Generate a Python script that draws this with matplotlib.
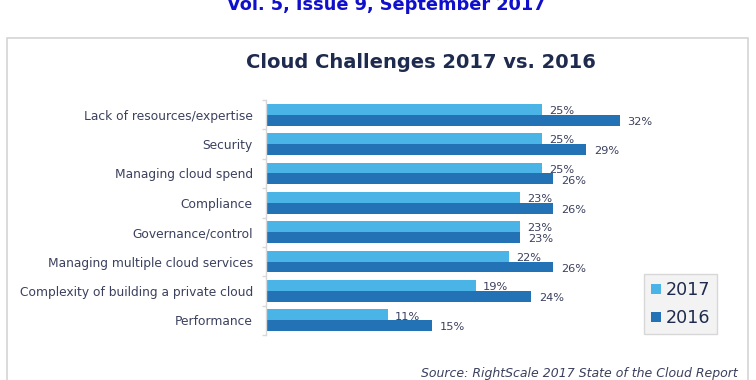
import matplotlib
matplotlib.use("Agg")
import matplotlib.pyplot as plt
import matplotlib.patches as patches
import numpy as np

# Data
categories = [
    "Lack of resources/expertise",
    "Security",
    "Managing cloud spend",
    "Compliance",
    "Governance/control",
    "Managing multiple cloud services",
    "Complexity of building a private cloud",
    "Performance",
]
vals_2017 = [25, 25, 25, 23, 23, 22, 19, 11]
vals_2016 = [32, 29, 26, 26, 23, 26, 24, 15]
series_names = ["2017", "2016"]

LIGHT = "#4bb4e6"
DARK = "#2472b6"
TEXT = "#3b405e"
TITLE = "#1f2b4e"
SPINE = "#d8d8d8"
FONT = "DejaVu Sans"

fig = plt.figure(figsize=(7.56, 3.8), dpi=100, facecolor="white")

# Newsletter header (cut at top edge, as in the source page)
fig.text(0.511, 1 - 5 / 380, "Vol. 5, Issue 9, September 2017", ha="center", va="center",
         fontsize=12.8, fontweight="bold", color="#1010cc", family=FONT)

# Light gray frame around the chart
fig.patches.append(patches.Rectangle(
    (7 / 756, -0.05), (748 - 7) / 756, 1.05 - 38 / 380, transform=fig.transFigure,
    facecolor="none", edgecolor="#d4d4d4", linewidth=1.2, zorder=-1))

fig.text(421 / 756, 1 - 62 / 380, "Cloud Challenges 2017 vs. 2016", ha="center", va="center",
         fontsize=14, fontweight="bold", color=TITLE, family=FONT)

ax = fig.add_axes([266 / 756, 45 / 380, (740 - 266) / 756, (335 - 100) / 380])
ax.set_facecolor("none")

y = np.arange(len(categories))
h = 0.37
ax.barh(y - h / 2, vals_2017, height=h, color=LIGHT, label=series_names[0], zorder=2)
ax.barh(y + h / 2, vals_2016, height=h, color=DARK, label=series_names[1], zorder=2)

for yi, v in zip(y, vals_2017):
    ax.annotate(f"{v}%", xy=(v, yi - h / 2), xytext=(5, -1.2), textcoords="offset points",
                ha="left", va="center", fontsize=8.2, color=TEXT, family=FONT, zorder=3)
for yi, v in zip(y, vals_2016):
    ax.annotate(f"{v}%", xy=(v, yi + h / 2), xytext=(5.5, -1.2), textcoords="offset points",
                ha="left", va="center", fontsize=8.2, color=TEXT, family=FONT, zorder=3)

ax.set_xlim(0, 42.9)
ax.set_ylim(len(categories) - 0.5, -0.5)
ax.set_yticks(y)
ax.set_yticklabels(categories, fontsize=8.8, color=TEXT, family=FONT)
ax.set_yticks(np.arange(len(categories) + 1) - 0.5, minor=True)
ax.tick_params(axis="y", which="major", length=0, pad=9.5)
ax.tick_params(axis="y", which="minor", length=3, color=SPINE, width=1)
ax.set_xticks([])
for s in ["top", "right", "bottom"]:
    ax.spines[s].set_visible(False)
ax.spines["left"].set_color(SPINE)
ax.spines["left"].set_linewidth(1)

leg = ax.legend(loc="upper left", bbox_to_anchor=((644 - 266) / 474, 1 - (274 - 100) / 235),
                borderaxespad=0, prop={"family": FONT, "size": 12.6}, frameon=True,
                fancybox=False, handlelength=0.55, handleheight=0.55, handletextpad=0.3,
                labelspacing=0.58, borderpad=0.4, labelcolor=TITLE)
leg.get_frame().set_facecolor("#f1f1f1")
leg.get_frame().set_edgecolor("#cfcfcf")
leg.get_frame().set_linewidth(1)

fig.text(738 / 756, 1 - 374 / 380, "Source: RightScale 2017 State of the Cloud Report",
         ha="right", va="center", fontsize=8.98, style="italic", color=TEXT, family=FONT)

fig.savefig("out.png", dpi=100, facecolor="white")
